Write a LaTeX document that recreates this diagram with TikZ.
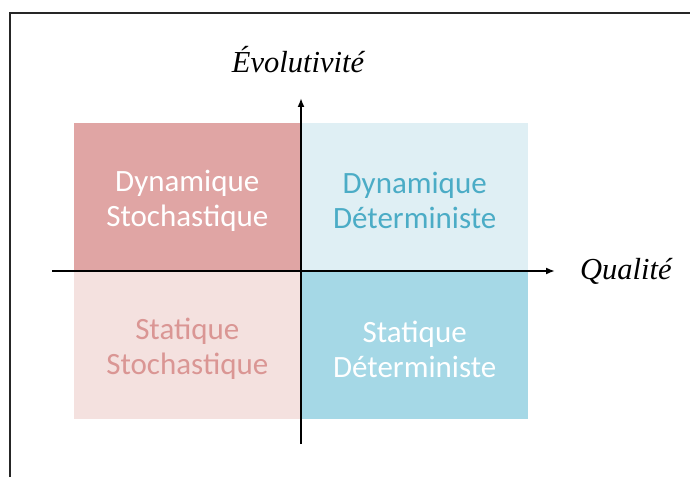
\documentclass[tikz,border=0pt]{standalone}
\usepackage{fontspec}
\setmainfont{Liberation Serif}
\setsansfont{Carlito}
\usepackage{xcolor}
\usetikzlibrary{positioning, arrows.meta}
\definecolor{stochDark}{HTML}{E0A5A4}
\definecolor{stochLight}{HTML}{F4E1DF}
\definecolor{stochText}{HTML}{DA9694}
\definecolor{detDark}{HTML}{A5D8E6}
\definecolor{detLight}{HTML}{DFEFF4}
\definecolor{detText}{HTML}{4BACC6}
\tikzset{
    quad/.style={rectangle, minimum width=227pt, minimum height=148pt, inner sep=0pt},
    quadtext/.style={align=center, inner sep=0pt, yshift=-4pt, font=\sffamily\fontsize{31}{35}\selectfont},
    axis/.style={-{Latex[length=9pt, width=7pt]}, line width=1.8pt},
    axislabel/.style={inner sep=0pt, font=\itshape\fontsize{30.5}{34}\selectfont},
    frameline/.style={line width=2.6pt, draw=black!85}
}

\begin{document}
\begin{tikzpicture}[x=1pt, y=1pt]
    \useasboundingbox (0,0) rectangle (690,477);

    % Frame
    \coordinate (FrameTL) at (10,464);
    \coordinate (FrameTR) at (690,464);
    \coordinate (FrameBL) at (10,0);
    \draw[frameline] (FrameBL) -- (FrameTL) -- (FrameTR);

    % Origin
    \coordinate (O) at (301,206);

    % Quadrants
    \node[quad, fill=stochDark, above left=0pt and 0pt of O,
        label={[quadtext, text=white]center:Dynamique\\Stochastique}] (DynStoch) {};
    \node[quad, fill=detLight, above right=0pt and 0pt of O,
        label={[quadtext, text=detText]center:Dynamique\\Déterministe}] (DynDet) {};
    \node[quad, fill=stochLight, below left=0pt and 0pt of O,
        label={[quadtext, text=stochText]center:Statique\\Stochastique}] (StatStoch) {};
    \node[quad, fill=detDark, below right=0pt and 0pt of O,
        label={[quadtext, text=white]center:Statique\\Déterministe}] (StatDet) {};

    % Axes
    \coordinate (XStart) at (52,206);
    \coordinate (XEnd) at (555,206);
    \coordinate (YStart) at (301,33);
    \coordinate (YEnd) at (301,379);
    \draw[axis] (XStart) -- (XEnd);
    \draw[axis] (YStart) -- (YEnd);

    % Labels
    \node[axislabel] (Evol) at (298,417) {Évolutivité};
    \node[axislabel, right=25pt of XEnd] (Qual) {Qualité};
\end{tikzpicture}
\end{document}
